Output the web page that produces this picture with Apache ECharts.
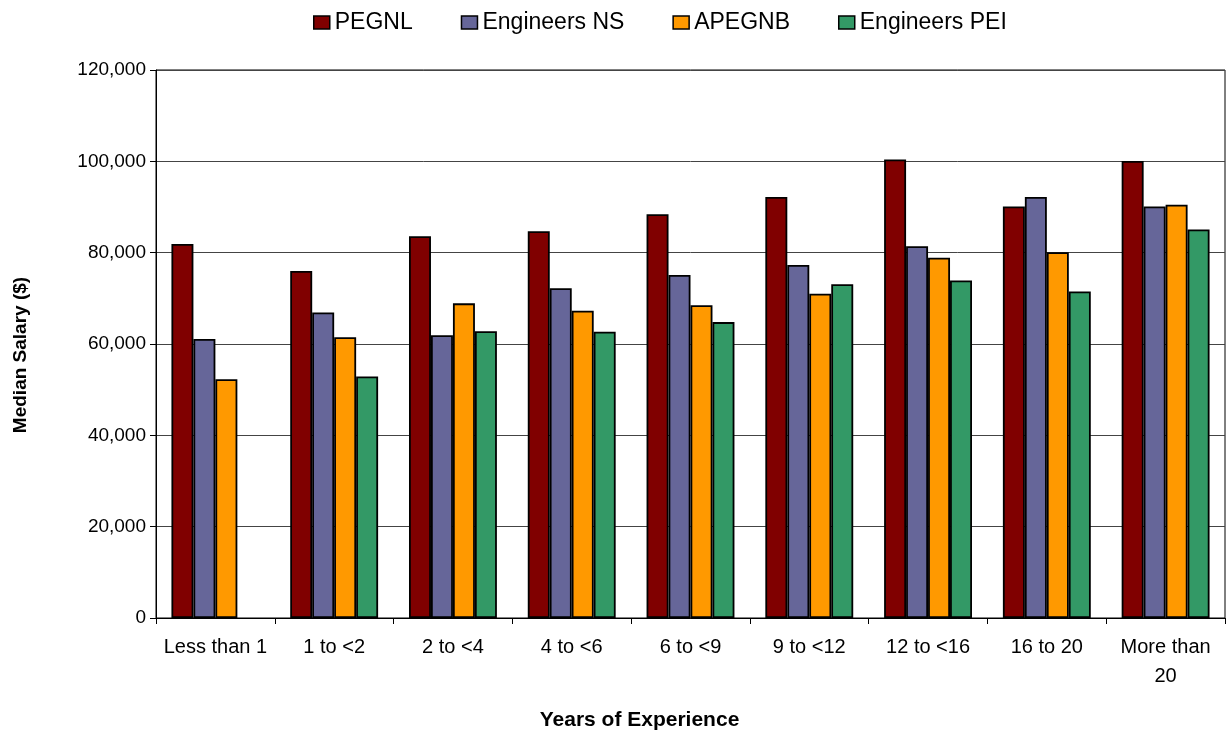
<!DOCTYPE html>
<html>
<head>
<meta charset="utf-8">
<title>Median Salary by Years of Experience</title>
<script src="https://cdn.jsdelivr.net/npm/echarts@6/dist/echarts.min.js"></script>
<style>
  html, body { margin: 0; padding: 0; background: #fff; }
  #main { width: 1228px; height: 737px; }
</style>
</head>
<body>
<div id="main"></div>
<script>
// data
var categories = ['Less than 1', '1 to <2', '2 to <4', '4 to <6', '6 to <9', '9 to <12', '12 to <16', '16 to 20', 'More than 20'];
var seriesNames = ['PEGNL', 'Engineers NS', 'APEGNB', 'Engineers PEI'];
var pegnl = [81900, 76000, 83600, 84700, 88400, 92200, 100400, 90100, 100100];
var engNS = [61100, 66900, 61900, 72200, 75100, 77300, 81400, 92200, 90100];
var apegnb = [52300, 61500, 68900, 67300, 68500, 71000, 78900, 80100, 90500];
var engPEI = [null, 52900, 62800, 62700, 64800, 73100, 73900, 71500, 85100];
var yTicks = [0, 20000, 40000, 60000, 80000, 100000, 120000];

var colors = ['#800000', '#666699', '#FF9900', '#339966'];
var font = "'Liberation Sans', Arial, sans-serif";

var myChart = echarts.init(document.getElementById('main'));

function makeBar(name, data) {
    return {
        name: name,
        type: 'bar',
        barGap: '0%',
        barCategoryGap: '26%',
        data: data,
        itemStyle: {
            borderColor: '#000',
            borderWidth: 1.8
        }
    };
}

var option = {
    animation: false,
    color: colors,
    textStyle: { fontFamily: font, color: '#000' },
    legend: {
        data: seriesNames,
        left: 308,
        top: 6,
        icon: 'rect',
        itemWidth: 16,
        itemHeight: 13,
        itemGap: 48,
        itemStyle: { borderColor: '#000', borderWidth: 1.5 },
        textStyle: { fontSize: 23, color: '#000', fontFamily: font }
    },
    grid: {
        left: 156,
        right: 3,
        top: 70,
        bottom: 119,
        show: true,
        borderColor: '#000',
        borderWidth: 1
    },
    xAxis: {
        type: 'category',
        data: categories,
        name: 'Years of Experience',
        nameLocation: 'middle',
        nameGap: 92,
        nameTextStyle: {
            fontSize: 21,
            fontWeight: 'bold',
            color: '#000',
            fontFamily: font,
            padding: [0, 102, 0, 0]
        },
        axisLine: { lineStyle: { color: '#000', width: 1 } },
        axisTick: { show: true, length: 6, lineStyle: { color: '#000' } },
        axisLabel: {
            fontSize: 20,
            color: '#000',
            margin: 15,
            lineHeight: 29,
            interval: 0,
            formatter: function (v) {
                return v === 'More than 20' ? 'More than\n20' : v;
            }
        }
    },
    yAxis: {
        type: 'value',
        min: yTicks[0],
        max: yTicks[yTicks.length - 1],
        interval: yTicks[1] - yTicks[0],
        name: 'Median Salary ($)',
        nameLocation: 'middle',
        nameGap: 126,
        nameTextStyle: {
            fontSize: 19,
            fontWeight: 'bold',
            color: '#000',
            fontFamily: font,
            padding: [0, 22, 0, 0]
        },
        axisLine: { show: true, lineStyle: { color: '#000', width: 1 } },
        axisTick: { show: true, length: 6, lineStyle: { color: '#000' } },
        axisLabel: {
            fontSize: 19,
            color: '#000',
            margin: 10,
            formatter: function (v) {
                return v.toString().replace(/\B(?=(\d{3})+(?!\d))/g, ',');
            }
        },
        splitLine: { show: true, lineStyle: { color: '#444', width: 1 } }
    },
    series: [
        makeBar(seriesNames[0], pegnl),
        makeBar(seriesNames[1], engNS),
        makeBar(seriesNames[2], apegnb),
        makeBar(seriesNames[3], engPEI)
    ]
};

myChart.setOption(option);
</script>
</body>
</html>
